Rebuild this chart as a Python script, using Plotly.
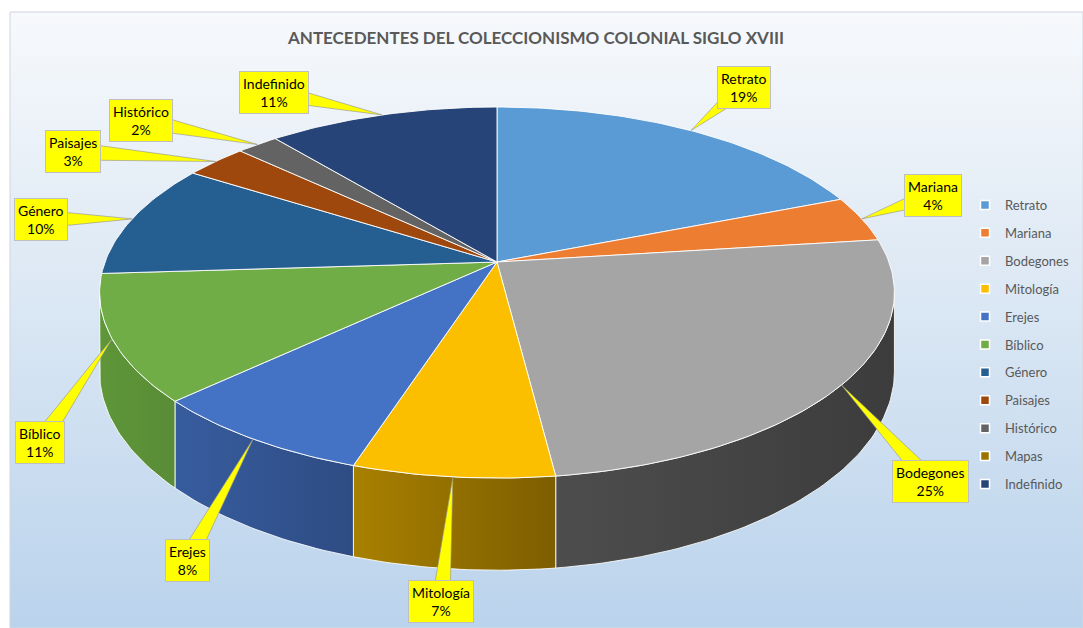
import numpy as np
import plotly.graph_objects as go

# ---------------- data ----------------
categories = ["Retrato", "Mariana", "Bodegones", "Mitología", "Erejes", "Bíblico",
              "Género", "Paisajes", "Histórico", "Mapas", "Indefinido"]
percent = [19, 4, 25, 7, 8, 11, 10, 3, 2, 0, 11]
title_text = "ANTECEDENTES DEL COLECCIONISMO COLONIAL SIGLO XVIII"

# ---------------- styles ----------------
top_colors = ["#5B9BD5", "#ED7D31", "#A5A5A5", "#FBBF00", "#4472C4", "#70AD47",
              "#255E91", "#9E480E", "#636363", "#997300", "#264478"]
wall_colors = [("#4a80b4", "#3f6f9e"), ("#c8682a", "#b05a22"), ("#4d4d4d", "#3c3c3c"),
               ("#a88000", "#7d5e00"), ("#375c9e", "#2e4c84"), ("#5e9639", "#598c36"),
               ("#1f4f7a", "#1a4268"), ("#86400c", "#73370a"), ("#555555", "#474747"),
               ("#806000", "#6a5000"), ("#203a66", "#1a3054")]

W, H = 1083, 628
# 3D pie projection parameters (pixel space)
cx, cy = 497.0, 262.0
R, B, K = 392.0, 180.5, 0.1645
DEPTH = 77.0

# callout box centres (layout)
label_boxes = {
    "Retrato": (744, 87), "Mariana": (933, 195), "Bodegones": (930, 481),
    "Mitología": (441, 601), "Erejes": (187, 560), "Bíblico": (40, 442),
    "Género": (41, 219), "Paisajes": (73, 151), "Histórico": (141, 120),
    "Indefinido": (274, 92),
}


def proj(theta, depth=0.0):
    u, v = np.sin(theta), np.cos(theta)
    s = 1.0 / (1.0 + K * v)
    return cx + R * u * s, cy - B * v * s + depth * s


def arc(a, b):
    n = max(3, int(abs(b - a) / np.radians(1.0)) + 2)
    t = np.linspace(a, b, n)
    return proj(t)


fig = go.Figure()

# background gradient panel
x0, x1, y0, y1 = 10, W, 12, H
fig.add_trace(go.Scatter(
    x=[x0, x1, x1, x0, x0], y=[y0, y0, y1, y1, y0], mode="lines",
    line=dict(width=1, color="#cfd6de"), fill="toself",
    fillgradient=dict(type="vertical", start=y0, stop=y1,
                      colorscale=[[0, "#f7f9fc"], [0.45, "#dce8f4"], [1, "#bad3ec"]]),
    hoverinfo="skip", showlegend=False))

total = float(sum(percent))
fr = np.cumsum([0] + percent) / total
angles = 2 * np.pi * fr
vis_a = np.arccos(-K)
vis_b = 2 * np.pi - np.arccos(-K)

# walls (front outer surface)
for i, name in enumerate(categories):
    if percent[i] <= 0:
        continue
    a, b = max(angles[i], vis_a), min(angles[i + 1], vis_b)
    if b <= a:
        continue
    n = max(3, int((b - a) / np.radians(1.0)) + 2)
    t = np.linspace(a, b, n)
    xt, yt = proj(t)
    xb, yb = proj(t[::-1], DEPTH)
    xs = np.concatenate([xt, xb, xt[:1]])
    ys = np.concatenate([yt, yb, yt[:1]])
    fig.add_trace(go.Scatter(
        x=xs, y=ys, mode="lines", line=dict(color="rgba(255,255,255,0.85)", width=1),
        fill="toself",
        fillgradient=dict(type="horizontal",
                          colorscale=[[0, wall_colors[i][0]], [1, wall_colors[i][1]]]),
        hoverinfo="skip", showlegend=False))

# top faces
for i, name in enumerate(categories):
    if percent[i] <= 0:
        continue
    xa, ya = arc(angles[i], angles[i + 1])
    xs = np.concatenate([[cx], xa, [cx]])
    ys = np.concatenate([[cy], ya, [cy]])
    fig.add_trace(go.Scatter(
        x=xs, y=ys, mode="lines", line=dict(color="rgba(255,255,255,0.9)", width=1),
        fill="toself", fillcolor=top_colors[i], name=name,
        text=f"{name}: {percent[i]}%", hoverinfo="text", showlegend=False))

# callouts
annotations = []
for i, name in enumerate(categories):
    if percent[i] <= 0:
        continue
    mid = 0.5 * (angles[i] + angles[i + 1])
    tx, ty = proj(mid)
    bx, by = label_boxes[name]
    dx, dy = tx - bx, ty - by
    L = np.hypot(dx, dy)
    px, py = -dy / L, dx / L
    w = 9.0
    fig.add_trace(go.Scatter(
        x=[bx + px * w, tx, bx - px * w, bx + px * w],
        y=[by + py * w, ty, by - py * w, by + py * w],
        mode="lines", line=dict(color="rgba(150,150,150,0.8)", width=0.8),
        fill="toself", fillcolor="#FFFF00", hoverinfo="skip", showlegend=False))
    annotations.append(dict(
        x=bx, y=by, xref="x", yref="y", showarrow=False,
        text=f"{name}<br>{percent[i]}%", align="center",
        font=dict(family="Lato, Carlito, Calibri, sans-serif", size=14, color="#000000"),
        bgcolor="#FFFF00", bordercolor="#BFBFBF", borderwidth=1, borderpad=3))

# legend entries
for i, name in enumerate(categories):
    fig.add_trace(go.Scatter(
        x=[None], y=[None], mode="markers", name=name, legendgroup=name,
        marker=dict(symbol="square", size=9, color=top_colors[i],
                    line=dict(color="white", width=1.5))))

annotations.append(dict(
    x=535 / W, y=1 - 38 / H, xref="paper", yref="paper", showarrow=False,
    text=f"<b>{title_text}</b>", xanchor="center", yanchor="middle",
    font=dict(family="Lato, Carlito, Calibri, sans-serif", size=17, color="#595959")))

fig.update_layout(
    width=W, height=H, margin=dict(l=0, r=0, t=0, b=0, autoexpand=False),
    paper_bgcolor="white", plot_bgcolor="white",
    xaxis=dict(range=[0, W], visible=False, fixedrange=True),
    yaxis=dict(range=[H, 0], visible=False, fixedrange=True),
    showlegend=True,
    legend=dict(x=965 / W, y=1 - 190 / H, xanchor="left", yanchor="top",
                bgcolor="rgba(0,0,0,0)", tracegroupgap=8,
                font=dict(family="Lato, Carlito, Calibri, sans-serif", size=13, color="#595959"),
                itemwidth=30),
    annotations=annotations,
)

fig.write_html("out.html")
